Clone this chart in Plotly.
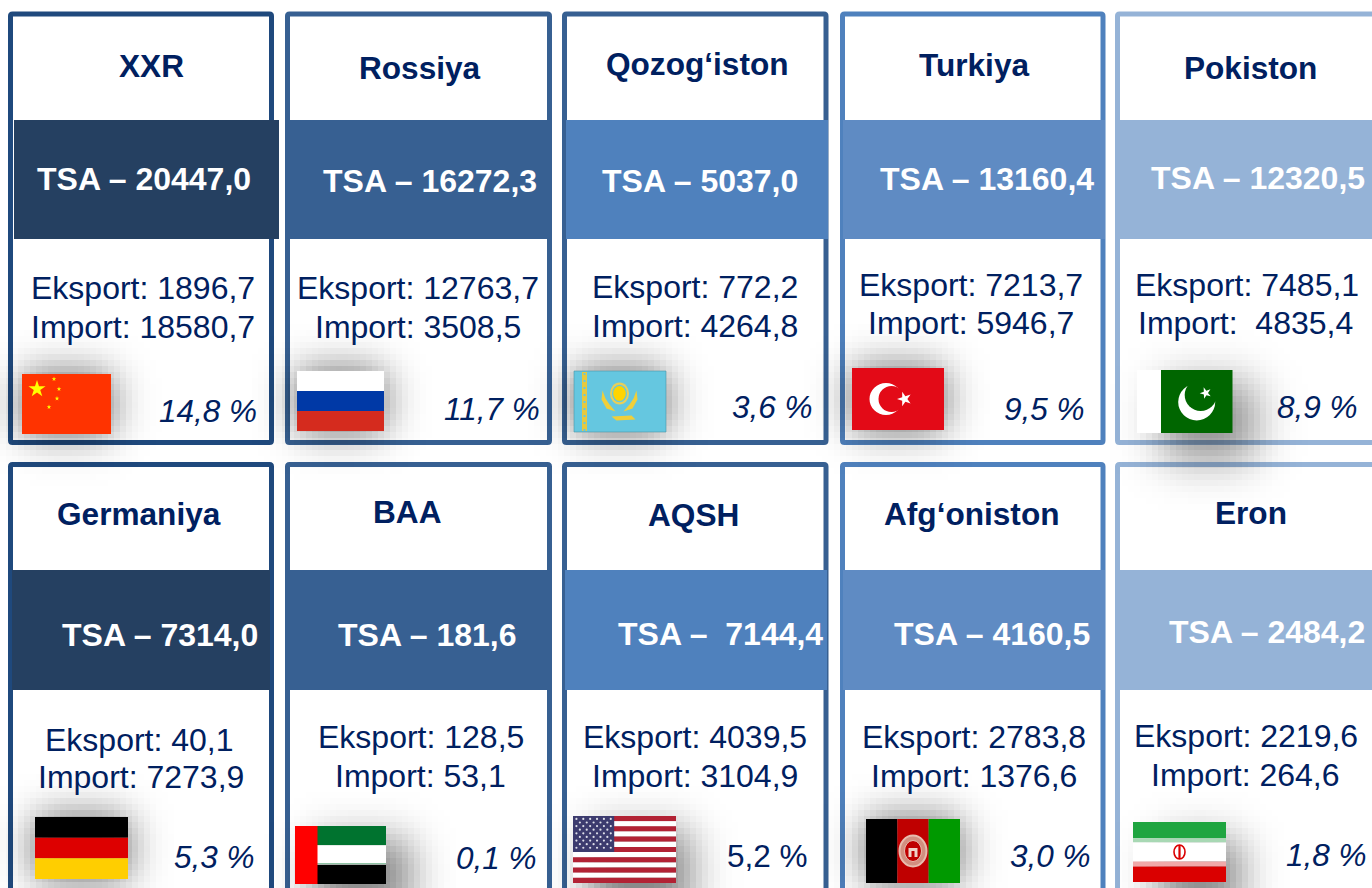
import math
import plotly.graph_objects as go

# ---------- data ----------
countries = ["XXR", "Rossiya", "Qozog‘iston", "Turkiya", "Pokiston",
             "Germaniya", "BAA", "AQSH", "Afg‘oniston", "Eron"]
tsa = [20447.0, 16272.3, 5037.0, 13160.4, 12320.5, 7314.0, 181.6, 7144.4, 4160.5, 2484.2]
eksport = [1896.7, 12763.7, 772.2, 7213.7, 7485.1, 40.1, 128.5, 4039.5, 2783.8, 2219.6]
importv = [18580.7, 3508.5, 4264.8, 5946.7, 4835.4, 7273.9, 53.1, 3104.9, 1376.6, 264.6]
share = [14.8, 11.7, 3.6, 9.5, 8.9, 5.3, 0.1, 5.2, 3.0, 1.8]

# ---------- layout ----------
NAVY = "#002060"
FONT = "Liberation Sans"
BORDER = ["#1f497d", "#376092", "#376092", "#4f81bd", "#95b3d7"]
BAND = ["#254061", "#376092", "#4f81bd", "#5f8bc3", "#95b3d7"]
CARD_X = [(10.5, 271.5), (287.5, 549.5), (564.5, 826), (842.5, 1103), (1117.5, 1400)]
CARD_Y = [(14, 442.5), (464.5, 920)]
BAND_X = [[(14, 279), (290, 551), (566, 828), (843, 1105), (1119, 1372)],
          [(12, 270), (290, 549), (565, 827), (843, 1105), (1119, 1372)]]
BAND_Y = [(120, 239), (570, 690)]

TITLE_POS = [(151, 66), (420, 68), (697, 64), (974, 65), (1250, 68),
             (139, 514), (407, 512), (693, 515), (971, 514), (1251, 513)]
TSA_POS = [(144, 179), (430, 181), (700, 181), (987, 179), (1258, 178),
           (160, 635), (427, 635), (720, 634), (992, 634), (1267, 632)]
EXP_POS = [(143, 288), (418, 288), (695, 287), (971, 285), (1247, 285),
           (139, 740), (421, 737), (695, 737), (974, 737), (1246, 736)]
IMP_POS = [(143, 327), (418, 327), (695, 326), (971, 323), (1245, 323),
           (141, 777), (420, 776), (695, 776), (974, 776), (1245, 775)]
SHARE_POS = [(259, 411), (542, 409), (815, 407), (1087, 409), (1360, 407),
             (257, 857), (539, 858), (810, 856), (1093, 856), (1369, 855)]
TSA_SEP = [" – "] * 7 + [" –\u00a0 "] + [" – "] * 2
IMP_SEP = [" "] * 4 + ["\u00a0 "] + [" "] * 5

FLAG_BOX = [(22, 374, 111, 434), (297, 371, 384, 431), (574, 371, 666, 432), (852, 368, 944, 430),
            (1137, 370, 1232.5, 433), (35, 817, 128, 879), (295, 826, 386, 884), (573, 816, 676, 883),
            (866, 819, 960, 883), (1133, 822, 1226, 882)]
# the soft rectangle each flag's shadow is blurred from: x0, y0, x1, y1, blur, strength
SHADOW_SRC = [(22, 374, 111, 434, 27, .62), (297, 371, 384, 431, 27, .62), (574, 371, 666, 432, 27, .62),
              (852, 368, 944, 430, 27, .62), (1163, 383, 1254, 459, 30, .46), (35, 817, 128, 879, 27, .62),
              (313, 840, 410, 910, 28, .5), (590, 830, 690, 915, 28, .5), (866, 819, 960, 883, 27, .62),
              (1160, 840, 1240, 910, 28, .5)]
CELL = 6

shapes = []


def rect(x0, y0, x1, y1, c, line=None, lw=0, layer="above"):
    shapes.append(dict(type="rect", xref="x", yref="y", x0=x0, y0=y0, x1=x1, y1=y1, fillcolor=c, layer=layer,
                       line=dict(width=lw, color=line or c)))


def oval(cx, cy, rx, ry, c, line=None, lw=0):
    shapes.append(dict(type="circle", xref="x", yref="y", x0=cx - rx, x1=cx + rx, y0=cy - ry, y1=cy + ry,
                       fillcolor=c, line=dict(width=lw, color=line or c)))


def rrect_path(x0, y0, x1, y1, r):
    return (f"M{x0 + r},{y0} L{x1 - r},{y0} Q{x1},{y0} {x1},{y0 + r} L{x1},{y1 - r} Q{x1},{y1} {x1 - r},{y1} "
            f"L{x0 + r},{y1} Q{x0},{y1} {x0},{y1 - r} L{x0},{y0 + r} Q{x0},{y0} {x0 + r},{y0} Z")


def star(cx, cy, r, c, rot=-90):
    pts = []
    for i in range(10):
        rad = r if i % 2 == 0 else r * 0.38
        a = math.radians(rot + 36 * i)
        pts.append((cx + rad * math.cos(a), cy + rad * math.sin(a)))
    poly(pts, c)


def poly(points, c):
    d = "M" + " L".join(f"{x:.2f},{y:.2f}" for x, y in points) + " Z"
    shapes.append(dict(type="path", xref="x", yref="y", path=d, fillcolor=c, line=dict(width=0)))


def stripes_h(b, cols, fr=None):
    x0, y0, x1, y1 = b
    fr = fr or [i / len(cols) for i in range(len(cols) + 1)]
    for i, c in enumerate(cols):
        rect(x0, y0 + fr[i] * (y1 - y0), x1, y0 + fr[i + 1] * (y1 - y0), c)


def flag_china(b):
    x0, y0, x1, y1 = b
    rect(*b, "#ff3300")
    star(x0 + 15, y0 + 15, 9, "#ffff00")
    for dx, dy in [(32, 5), (37, 15), (35, 24.5), (27, 33)]:
        star(x0 + dx, y0 + dy, 2.4, "#ffff00")


def flag_russia(b):
    stripes_h(b, ["#ffffff", "#0039a6", "#d52b1e"])


def flag_kz(b):
    x0, y0, x1, y1 = b
    rect(*b, "#65c7e0", "#4b93a6", 0.6)
    y = y0 + 2
    rect(x0 + 8, y0 + 1, x0 + 13, y1 - 1, "#e6c93f")
    while y < y1 - 2:
        rect(x0 + 9.5, y, x0 + 11.5, y + 2, "#65c7e0")
        y += 7
    cx, cy = x0 + 45.5, y0 + 22.5
    oval(cx, cy, 9.5, 11, "#e8cf5b")
    oval(cx, cy, 7.5, 8.8, "#65c7e0")
    oval(cx, cy, 6.3, 7.5, "#ffd400")
    for s in (-1, 1):
        poly([(cx + s * 17, cy - 3), (cx + s * 18, cy + 6), (cx + s * 13, cy + 15), (cx + s * 4, cy + 18),
              (cx + s * 10, cy + 11), (cx + s * 14, cy + 5)], "#f0cf3a")
    poly([(cx - 8, cy + 23), (cx + 12, cy + 22), (cx + 16, cy + 26), (cx - 3, cy + 27)], "#f0cf3a")


def flag_turkey(b):
    x0, y0, x1, y1 = b
    rect(*b, "#e30a17")
    oval(x0 + 34, y0 + 31, 16.5, 16, "#ffffff")
    oval(x0 + 39.5, y0 + 31, 13, 13, "#e30a17")
    star(x0 + 52.5, y0 + 31, 7.5, "#ffffff", rot=180)


def flag_pk(b):
    x0, y0, x1, y1 = b
    rect(x0, y0, x0 + 24, y1, "#ffffff")
    rect(x0 + 24, y0, x1, y1, "#006600")
    oval(x0 + 59.7, y0 + 32, 18.5, 18.5, "#ffffff")
    oval(x0 + 63.7, y0 + 25, 16, 16, "#006600")
    star(x0 + 68.7, y0 + 23, 6, "#ffffff", rot=-110)


def flag_de(b):
    stripes_h(b, ["#000000", "#dd0000", "#ffce00"])


def flag_uae(b):
    x0, y0, x1, y1 = b
    stripes_h((x0 + 22, y0, x1, y1), ["#00732f", "#ffffff", "#000000"])
    rect(x0 + 22, y0 + 37, x1, y0 + 38.3, "#8fc4a5")
    rect(x0, y0, x0 + 22.5, y1, "#ff0000")


def flag_us(b):
    x0, y0, x1, y1 = b
    cols = ["#b22234" if i % 2 == 0 else "#ffffff" for i in range(13)]
    stripes_h(b, cols)
    cy1 = y0 + (y1 - y0) * 7 / 13
    cx1 = x0 + (x1 - x0) * 0.4
    rect(x0, y0, cx1, cy1, "#3c3b6e")
    for r in range(9):
        n = 6 if r % 2 == 0 else 5
        for i in range(n):
            sx = x0 + (i + (0.5 if n == 6 else 1)) * (cx1 - x0) / 6
            sy = y0 + (r + 0.8) * (cy1 - y0) / 10
            oval(sx, sy, 1.1, 1.1, "#dfe0ea")


def flag_af(b):
    x0, y0, x1, y1 = b
    w = (x1 - x0) / 3
    rect(x0, y0, x0 + w, y1, "#000000")
    rect(x0 + w, y0, x0 + 2 * w, y1, "#bf0000")
    rect(x0 + 2 * w, y0, x1, y1, "#009900")
    cx, cy = (x0 + x1) / 2, y0 + 32
    oval(cx, cy, 13.5, 15.5, "#d28f80", "#e8bcae", 2)
    oval(cx, cy, 8.5, 10.5, "#bf0000", "#e8bcae", 1)
    rect(cx - 4.5, cy - 3, cx + 4.5, cy + 6, "#efd3c9")
    rect(cx - 1.5, cy + 0, cx + 1.5, cy + 6, "#bf0000")


def flag_ir(b):
    x0, y0, x1, y1 = b
    stripes_h(b, ["#1fa540", "#a8d8b4", "#ffffff", "#f0a8a8", "#da0000"],
              [0, 0.27, 0.34, 0.66, 0.74, 1])
    cx, cy = (x0 + x1) / 2, y0 + 30
    oval(cx, cy, 5.5, 7, "#ffffff", "#da0000", 1.6)
    rect(cx - 1.1, cy - 7, cx + 1.1, cy + 7, "#da0000")


FLAGS = [flag_china, flag_russia, flag_kz, flag_turkey, flag_pk, flag_de, flag_uae, flag_us, flag_af, flag_ir]

# cards and bands sit below the shadow traces, flags above them
for row in range(2):
    for col in range(5):
        (cx0, cx1), (cy0, cy1) = CARD_X[col], CARD_Y[row]
        shapes.append(dict(type="path", xref="x", yref="y", path=rrect_path(cx0, cy0, cx1, cy1, 2), layer="below",
                           fillcolor="#ffffff", line=dict(width=5, color=BORDER[col])))
for row in range(2):
    for col in range(5):
        bx0, bx1 = BAND_X[row][col]
        rect(bx0, BAND_Y[row][0], bx1, BAND_Y[row][1], BAND[col], layer="below")

for fn, b in zip(FLAGS, FLAG_BOX):
    fn(b)


def blur_profile(v, a, b, s):
    return 0.5 * (math.erf((v - a) / s) - math.erf((v - b) / s))


fig = go.Figure()
for (a0, b0, a1, b1, s, k) in SHADOW_SRC:
    pad = int(s * 1.6)
    gx0 = (int(a0 - pad) // CELL) * CELL
    gy0 = (int(b0 - pad) // CELL) * CELL
    nx = int((a1 - a0 + 2 * pad) / CELL) + 2
    ny = int((b1 - b0 + 2 * pad) / CELL) + 2
    z = [[k * blur_profile(gx0 + (i + .5) * CELL, a0, a1, s) * blur_profile(gy0 + (j + .5) * CELL, b0, b1, s)
          for i in range(nx)] for j in range(ny)]
    fig.add_trace(go.Heatmap(z=z, x0=gx0 + CELL / 2, dx=CELL, y0=gy0 + CELL / 2, dy=CELL, zmin=0, zmax=1,
                             zsmooth=False, showscale=False, hoverinfo="skip",
                             colorscale=[[0, "rgba(0,0,0,0)"], [1, "rgba(0,0,0,1)"]]))


def fmt(v):
    return f"{v:.1f}".replace(".", ",")


annotations = []


def label(pos, text, size, color=NAVY, bold=False, italic=False, anchor="center"):
    if bold:
        text = f"<b>{text}</b>"
    if italic:
        text = f"<i>{text}</i>"
    annotations.append(dict(x=pos[0], y=pos[1], xref="x", yref="y", text=text, showarrow=False,
                            xanchor=anchor, yanchor="middle", align="center",
                            font=dict(family=FONT, size=size, color=color)))


for i in range(10):
    label(TITLE_POS[i], countries[i], 31.6, bold=True)
    label(TSA_POS[i], f"TSA{TSA_SEP[i]}{fmt(tsa[i])}", 32, color="#ffffff", bold=True)
    label(EXP_POS[i], f"Eksport: {fmt(eksport[i])}", 32)
    label(IMP_POS[i], f"Import:{IMP_SEP[i]}{fmt(importv[i])}", 32)
    label(SHARE_POS[i], f"{fmt(share[i])} %", 31.5, italic=(i != 7), anchor="right")

fig.update_layout(
    width=1372, height=888, autosize=False,
    margin=dict(l=0, r=0, t=0, b=0),
    paper_bgcolor="#ffffff", plot_bgcolor="#ffffff",
    xaxis=dict(range=[0, 1372], visible=False, fixedrange=True),
    yaxis=dict(range=[888, 0], visible=False, fixedrange=True),
    shapes=shapes, annotations=annotations, showlegend=False,
)
fig.write_html("out.html", config=dict(displayModeBar=False),
               post_script="document.body.style.margin='0';document.body.style.overflow='hidden';")
